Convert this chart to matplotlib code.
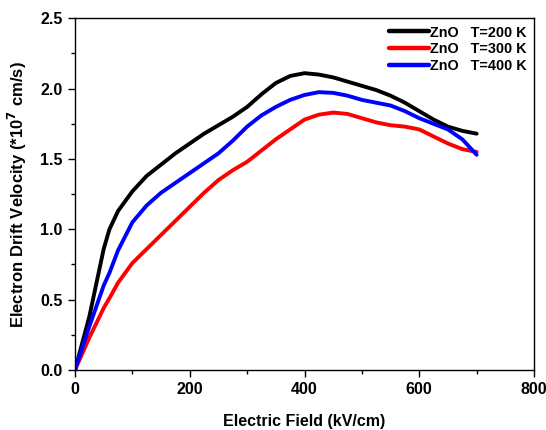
import matplotlib
matplotlib.use("Agg")
import matplotlib.pyplot as plt
from matplotlib.ticker import MultipleLocator

plt.rcParams['font.family'] = ['Liberation Sans', 'DejaVu Sans']
plt.rcParams['font.weight'] = 'bold'
plt.rcParams['mathtext.default'] = 'bf'

field = [0, 25, 50, 60, 75, 100, 125, 150, 175, 200, 225, 250, 275, 300, 325, 350, 375, 400,
         425, 450, 475, 500, 525, 550, 575, 600, 625, 650, 675, 700]
v200 = [0.0, 0.38, 0.86, 1.00, 1.13, 1.27, 1.38, 1.46, 1.54, 1.61, 1.68, 1.74, 1.80, 1.87, 1.96, 2.04, 2.09, 2.11,
        2.10, 2.08, 2.05, 2.02, 1.99, 1.95, 1.90, 1.84, 1.78, 1.73, 1.70, 1.68]
v300 = [0.0, 0.23, 0.44, 0.51, 0.62, 0.76, 0.86, 0.96, 1.06, 1.16, 1.26, 1.35, 1.42, 1.48, 1.56, 1.64, 1.71, 1.78,
        1.815, 1.83, 1.82, 1.79, 1.76, 1.74, 1.73, 1.71, 1.66, 1.61, 1.57, 1.55]
v400 = [0.0, 0.31, 0.60, 0.69, 0.85, 1.05, 1.17, 1.26, 1.33, 1.40, 1.47, 1.54, 1.63, 1.73, 1.81, 1.87, 1.92, 1.955,
        1.975, 1.97, 1.95, 1.92, 1.90, 1.88, 1.84, 1.79, 1.75, 1.71, 1.64, 1.53]
labels = ["ZnO   T=200 K", "ZnO   T=300 K", "ZnO   T=400 K"]
colors = ["#000000", "#ff0000", "#0000ff"]

fig = plt.figure(figsize=(5.46, 4.30), dpi=100)
ax = fig.add_axes([75 / 546, 1 - 370 / 430, 459 / 546, (370 - 18.3) / 430])

for v, lab, c in zip([v200, v300, v400], labels, colors):
    ax.plot(field, v, color=c, lw=2.8, label=lab, solid_capstyle='round', solid_joinstyle='round')

ax.set_xlim(0, 800)
ax.set_ylim(0, 2.5)
ax.xaxis.set_major_locator(MultipleLocator(200))
ax.xaxis.set_minor_locator(MultipleLocator(100))
ax.yaxis.set_major_locator(MultipleLocator(0.5))
ax.yaxis.set_minor_locator(MultipleLocator(0.25))
ax.tick_params(which='both', direction='out', top=False, right=False, width=1)
ax.tick_params(which='major', length=5, labelsize=11.5, pad=4)
ax.tick_params(which='minor', length=3)
for lbl in ax.get_xticklabels() + ax.get_yticklabels():
    lbl.set_fontweight('bold')
ax.set_xlabel("Electric Field (kV/cm)", fontsize=11.5, fontweight='bold', labelpad=12)
ax.set_ylabel("Electron Drift Velocity (*10$^{7}$ cm/s)", fontsize=12, fontweight='bold', labelpad=8)
for s in ax.spines.values():
    s.set_linewidth(1.0)

leg = ax.legend(loc='upper right', frameon=False, fontsize=10.4, handlelength=2.8,
                handletextpad=0.05, labelspacing=0.2, borderaxespad=0.3, borderpad=0.2)
for t in leg.get_texts():
    t.set_fontweight('bold')
for h in leg.get_lines():
    h.set_linewidth(3.2)

fig.savefig("out.png", dpi=100)
